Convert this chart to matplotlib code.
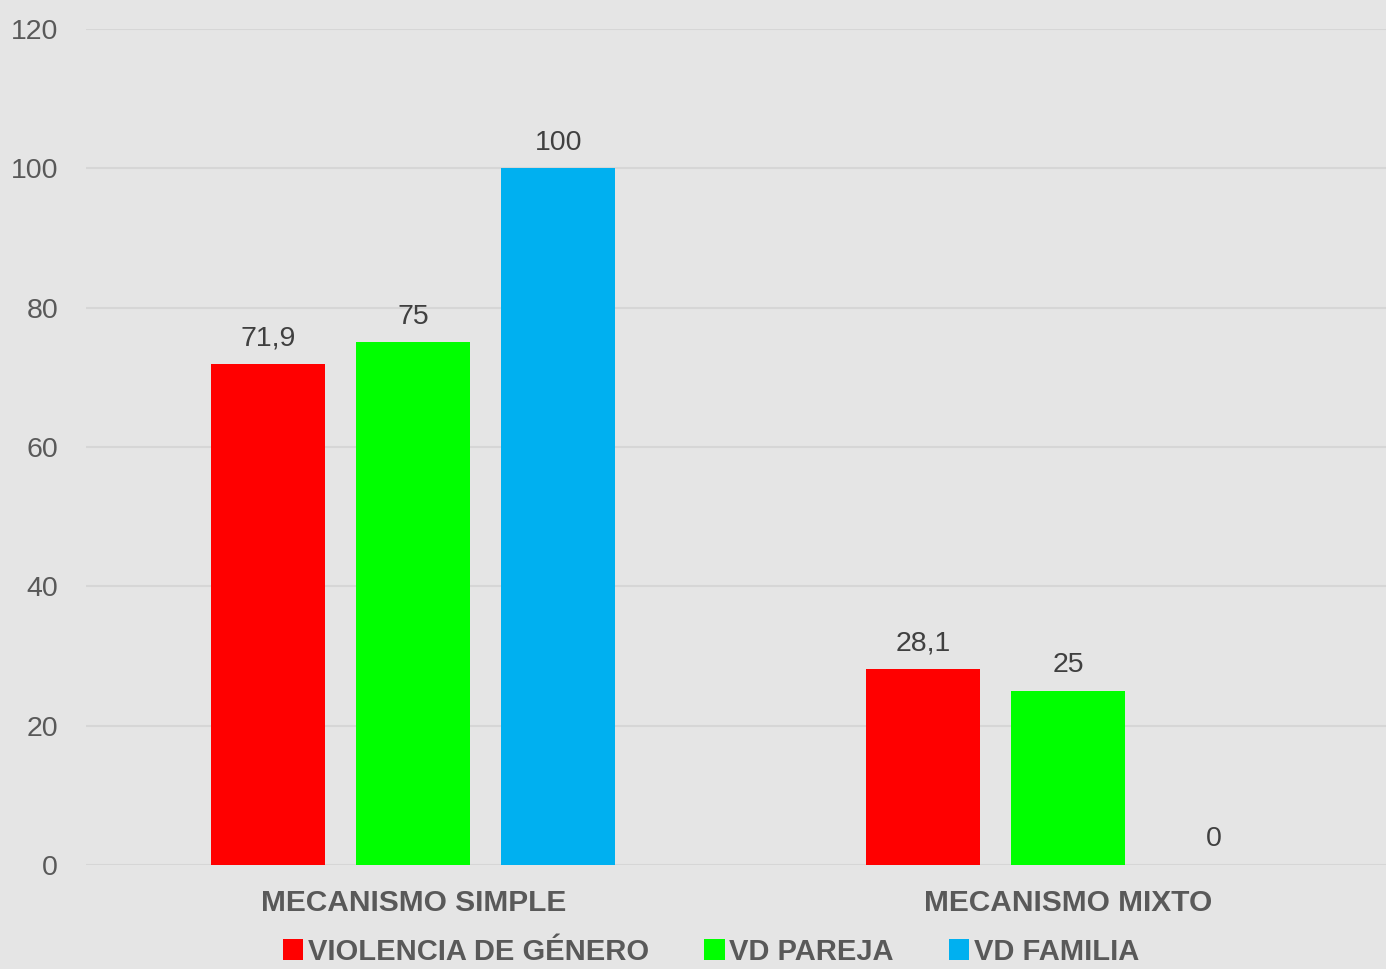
import matplotlib
matplotlib.use("Agg")
import matplotlib.pyplot as plt
import numpy as np
from matplotlib.patches import Patch

categories = ["MECANISMO SIMPLE", "MECANISMO MIXTO"]
series = ["VIOLENCIA DE GÉNERO", "VD PAREJA", "VD FAMILIA"]
values = {
    "VIOLENCIA DE GÉNERO": [71.9, 28.1],
    "VD PAREJA": [75, 25],
    "VD FAMILIA": [100, 0],
}
labels = {
    "VIOLENCIA DE GÉNERO": ["71,9", "28,1"],
    "VD PAREJA": ["75", "25"],
    "VD FAMILIA": ["100", "0"],
}
colors = ["#FF0000", "#00FF00", "#00B0F0"]
yticks = [0, 20, 40, 60, 80, 100, 120]

plt.rcParams['font.family'] = ['Liberation Sans', 'DejaVu Sans']
bg = "#E5E5E5"
txt = "#595959"

fig = plt.figure(figsize=(13.86, 9.69), dpi=100, facecolor=bg)
ax = fig.add_axes([0.062, 0.1073, 0.938, 0.8628], facecolor=bg)

x = np.arange(len(categories))
width = 0.174
offset = 0.2214
for i, s in enumerate(series):
    pos = x + (i - 1) * offset
    ax.bar(pos, values[s], width=width, color=colors[i], zorder=3)
    for p, v, l in zip(pos, values[s], labels[s]):
        ax.text(p, v + 1.8, l, ha="center", va="bottom", fontsize=20.5, color="#404040", zorder=4)

ax.set_ylim(0, 120)
ax.set_xlim(-0.5, 1.485)
ax.set_yticks(yticks)
ax.set_yticklabels([str(t) for t in yticks], fontsize=20.5, color=txt)
ax.set_xticks(x)
ax.set_xticklabels(categories, fontsize=21.5, fontweight="bold", color=txt)
ax.tick_params(axis="both", length=0)
ax.tick_params(axis="y", pad=20)
ax.tick_params(axis="x", pad=17)
ax.grid(axis="y", color="#D6D6D6", linewidth=1.5, zorder=0)
for sp in ax.spines.values():
    sp.set_visible(False)

handles = [Patch(facecolor=c, edgecolor="none") for c in colors]
leg = fig.legend(handles, series, loc="center", bbox_to_anchor=(0.513, 0.018),
                 ncol=3, frameon=False, fontsize=21,
                 handlelength=0.7, handleheight=0.7, handletextpad=0.15, columnspacing=1.9)
for t in leg.get_texts():
    t.set_color(txt)
    t.set_fontweight("bold")

fig.savefig("out.png", dpi=100, facecolor=bg)
